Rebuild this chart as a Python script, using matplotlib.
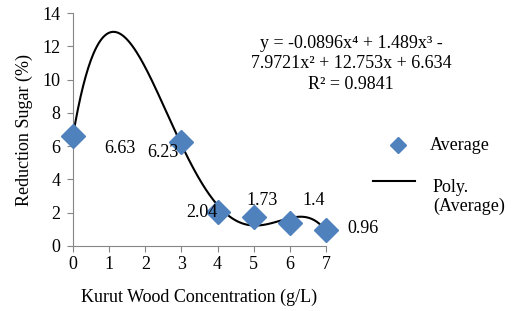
import numpy as np
import matplotlib
matplotlib.use("Agg")
import matplotlib.pyplot as plt
from matplotlib.lines import Line2D

plt.rcParams['font.family'] = ['Liberation Serif', 'DejaVu Serif']

conc = [0, 3, 4, 5, 6, 7]
avg = [6.63, 6.23, 2.04, 1.73, 1.4, 0.96]
labels = ["6.63", "6.23", "2.04", "1.73", "1.4", "0.96"]
equation = "y = -0.0896x\u2074 + 1.489x\u00b3 -\n7.9721x\u00b2 + 12.753x + 6.634\nR\u00b2 = 0.9841"

blue = "#4F81BD"
grey = "#868686"
fs = 13

fig = plt.figure(figsize=(5.17, 3.11), dpi=100)
W, H = 517, 311
ax = fig.add_axes([73/W, 1-246/H, (326-73)/W, (246-13)/H])

coef = np.polyfit(conc, avg, 4)
xs = np.linspace(0, 7, 300)
ax.plot(xs, np.polyval(coef, xs), color="black", lw=1.5, zorder=2)
ax.plot(conc, avg, linestyle="none", marker="D", ms=12, color=blue, zorder=3,
        clip_on=False)

offsets = [(34, -9), (-13, -7), (-11, 0), (6, 12), (17, 16), (27, 1)]
for x, y, t, (dx, dy) in zip(conc, avg, labels, offsets):
    ax.annotate(t, (x, y), xytext=(dx, dy), textcoords="offset points",
                ha="center", va="center", fontsize=fs, zorder=4)

ax.set_xlim(0, 7)
ax.set_ylim(0, 14)
ax.set_xticks(range(0, 8))
ax.set_yticks(range(0, 15, 2))
for s in ["top", "right"]:
    ax.spines[s].set_visible(False)
for s in ["left", "bottom"]:
    ax.spines[s].set_color(grey)
ax.tick_params(direction="out", color=grey, length=4, labelsize=fs)
ax.tick_params(axis="y", pad=5)
ax.set_xlabel("Kurut Wood Concentration (g/L)", fontsize=fs, labelpad=11)
ax.set_ylabel("Reduction Sugar (%)", fontsize=fs, labelpad=7)

fig.text(351/W, 1-64/H, equation, ha="center", va="center", fontsize=fs,
         linespacing=1.3)

# legend
fig.add_artist(Line2D([398/W], [1-145/H], linestyle="none", marker="D", ms=8,
                      color=blue, transform=fig.transFigure))
fig.text(430/W, 1-145/H, "Average", ha="left", va="center", fontsize=fs)
fig.add_artist(Line2D([373/W, 415/W], [1-181/H, 1-181/H], color="black", lw=1.5,
                      transform=fig.transFigure))
fig.text(433/W, 1-197/H, "Poly.\n(Average)", ha="left", va="center",
         fontsize=fs, linespacing=1.2)

fig.savefig("out.png", dpi=100)
